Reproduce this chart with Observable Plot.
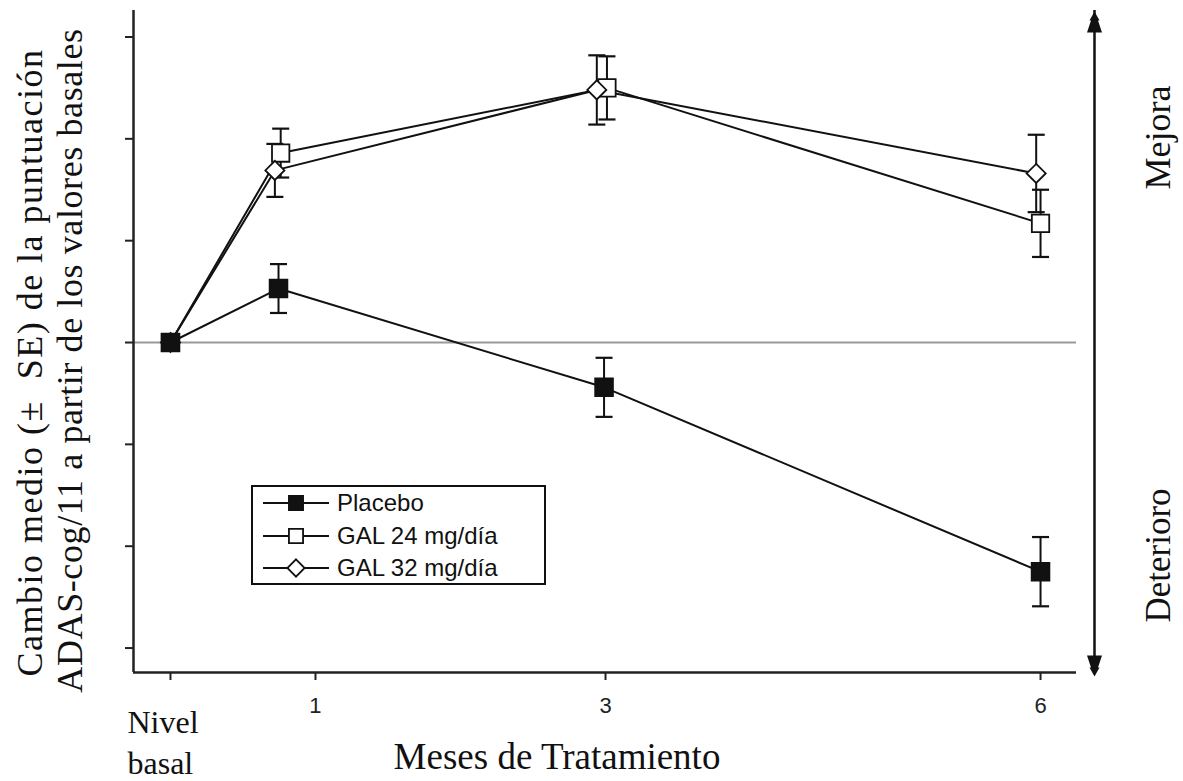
<!DOCTYPE html>
<html><head><meta charset="utf-8">
<script src="https://cdn.jsdelivr.net/npm/d3@7"></script>
<script src="https://cdn.jsdelivr.net/npm/@observablehq/plot@0.6"></script>
<style>html,body{margin:0;padding:0;background:#fff;} svg{display:block}</style>
</head><body><div id="chart"></div>
<script>
// ---- data ----
const seriesNames = ["Placebo", "GAL 24 mg/día", "GAL 32 mg/día"];
const placeboMonths = [0, 0.745, 2.99, 6.0];
const placeboMean   = [0, 0.53, -0.44, -2.25];
const placeboSE     = [0, 0.24, 0.29, 0.34];
const gal24Months   = [0, 0.76, 3.01, 6.0];
const gal24Mean     = [0, 1.86, 2.50, 1.17];
const gal24SE       = [0, 0.24, 0.31, 0.33];
const gal32Months   = [0, 0.72, 2.94, 5.97];
const gal32Mean     = [0, 1.69, 2.48, 1.66];
const gal32SE       = [0, 0.26, 0.34, 0.38];
const xTicks = [0, 1, 3, 6];
const xTickLabels = ["", "1", "3", "6"];
const baselineLabel = "Nivel\nbasal";
const yTicks = [-3, -2, -1, 0, 1, 2, 3];
const xTitle = "Meses de Tratamiento";
const yTitle1 = "Cambio medio (±\u00a0\u00a0SE) de la puntuación";
const yTitle2 = "ADAS-cog/11 a partir de los valores basales";
const upLabel = "Mejora";
const downLabel = "Deterioro";

const xDomain = [-0.255, 6.248];
const yDomain = [-3.24, 3.26];

function build(name, xs, ys, ses) {
  return xs.map((x, i) => ({series: name, x, y: ys[i], se: ses[i]}));
}
const placeboRows = build(seriesNames[0], placeboMonths, placeboMean, placeboSE);
const gal24Rows = build(seriesNames[1], gal24Months, gal24Mean, gal24SE);
const gal32Rows = build(seriesNames[2], gal32Months, gal32Mean, gal32SE);
const rows = [...gal24Rows, ...gal32Rows, ...placeboRows];
const errRows = rows.filter(d => d.se > 0);

const SERIF = "'Liberation Serif','Times New Roman',serif";
const SANS = "'Liberation Sans',Arial,Helvetica,sans-serif";
const INK = "#111";

const capSymbol = { draw(ctx, size) { const w = Math.sqrt(size); ctx.moveTo(-w, 0); ctx.lineTo(w, 0); } };
const headUp = { draw(ctx) { ctx.moveTo(0, 1); ctx.lineTo(5, 10); ctx.lineTo(3.5, 10); ctx.lineTo(7.5, 22); ctx.lineTo(-7.5, 22); ctx.lineTo(-3.5, 10); ctx.lineTo(-5, 10); ctx.closePath(); } };
const headDown = { draw(ctx) { ctx.moveTo(0, -1); ctx.lineTo(5, -10); ctx.lineTo(3.5, -10); ctx.lineTo(7.5, -22); ctx.lineTo(-7.5, -22); ctx.lineTo(-3.5, -10); ctx.lineTo(-5, -10); ctx.closePath(); } };

const styleOf = {
  "Placebo": {symbol: "square", fill: INK, r: 10},
  "GAL 24 mg/día": {symbol: "square", fill: "white", r: 9.8},
  "GAL 32 mg/día": {symbol: "diamond2", fill: "white", r: 8.6}
};
const seriesDots = (data) => {
  const s = styleOf[data[0].series];
  return Plot.dot(data, {x: "x", y: "y", symbol: s.symbol, r: s.r, fill: s.fill, stroke: INK, strokeWidth: 1.8});
};
const serifText = {fontFamily: SERIF, fill: INK, textAnchor: "middle", lineAnchor: "middle"};

const marks = [
  // zero reference line
  Plot.ruleY([0], {stroke: "#999", strokeWidth: 2}),
  // frame axes lines
  Plot.ruleX([xDomain[0]], {stroke: "#222", strokeWidth: 2.5}),
  Plot.ruleY([yDomain[0]], {stroke: "#222", strokeWidth: 2.5}),
  Plot.axisY({ticks: yTicks, tickFormat: () => "", tickSize: 8, stroke: "#222", strokeWidth: 2, label: null}),
  Plot.axisX({ticks: xTicks, tickFormat: () => "", tickSize: 8, stroke: "#222", strokeWidth: 2, label: null}),
  Plot.text(xTicks, {x: d => d, frameAnchor: "bottom", text: (d, i) => xTickLabels[i], textAnchor: "middle",
    lineAnchor: "middle", dy: 33, fontSize: 22, fontFamily: SANS, fill: "#222"}),
  Plot.text([0], {x: d => d, frameAnchor: "bottom", text: () => baselineLabel, textAnchor: "start", lineAnchor: "top",
    lineHeight: 1.28, dx: -43, dy: 31, fontSize: 32, fontFamily: SERIF, fill: INK}),
  Plot.text([xTitle], {...serifText, frameAnchor: "bottom", dx: -48, dy: 85, fontSize: 37}),
  Plot.text([yTitle1], {...serifText, frameAnchor: "left", rotate: -90, dx: -103, dy: 21, fontSize: 36}),
  Plot.text([yTitle2], {...serifText, frameAnchor: "left", rotate: -90, dx: -63, dy: 19, fontSize: 36}),
  Plot.text([upLabel], {...serifText, frameAnchor: "top-right", rotate: -90, dx: 82, dy: 127, fontSize: 36}),
  Plot.text([downLabel], {...serifText, frameAnchor: "bottom-right", rotate: -90, dx: 82, dy: -117, fontSize: 35}),
  // double arrow
  Plot.ruleX([xDomain[1]], {y1: yDomain[0], y2: yDomain[1], dx: 18, stroke: INK, strokeWidth: 2.5}),
  Plot.dot([yDomain[1]], {x: () => xDomain[1], y: d => d, dx: 18, symbol: headUp, fill: INK, stroke: "none", r: 5}),
  Plot.dot([yDomain[0]], {x: () => xDomain[1], y: d => d, dx: 18, dy: 5, symbol: headDown, fill: INK, stroke: "none", r: 5}),
  // series lines
  Plot.line(rows, {x: "x", y: "y", z: "series", stroke: INK, strokeWidth: 2}),
  // error bars
  Plot.ruleX(errRows, {x: "x", y1: d => d.y - d.se, y2: d => d.y + d.se, stroke: INK, strokeWidth: 2}),
  Plot.dot(errRows, {x: "x", y: d => d.y + d.se, symbol: capSymbol, r: 4.8, stroke: INK, strokeWidth: 2.2, fill: "none"}),
  Plot.dot(errRows, {x: "x", y: d => d.y - d.se, symbol: capSymbol, r: 4.8, stroke: INK, strokeWidth: 2.2, fill: "none"}),
  // markers (placebo last so it sits on top at baseline)
  seriesDots(gal24Rows),
  seriesDots(gal32Rows),
  seriesDots(placeboRows)
];

const chart = Plot.plot({
  width: 1183, height: 781,
  marginLeft: 133, marginRight: 107, marginTop: 10, marginBottom: 109,
  x: {domain: xDomain},
  y: {domain: yDomain},
  style: {background: "white", overflow: "visible", fontSize: "22px", fontFamily: SANS, color: "#222"},
  marks
});
document.getElementById("chart").appendChild(chart);

const svg = d3.select(chart);
// widen the axis title lines slightly (letter spacing)
svg.selectAll("text").filter(function() { return this.textContent === yTitle1; }).style("letter-spacing", "1.5px");
svg.selectAll("text").filter(function() { return this.textContent === yTitle2; }).style("letter-spacing", "0.6px");

// ---- legend inside the plot ----
const lg = svg.append("g").attr("transform", "translate(252,486)");
lg.append("rect").attr("width", 293).attr("height", 98).attr("fill", "white").attr("stroke", INK).attr("stroke-width", 2);
const rowY = [17, 50, 82];
const legendSym = {
  "Placebo": d3.symbol(d3.symbolSquare, 200),
  "GAL 24 mg/día": d3.symbol(d3.symbolSquare, 200),
  "GAL 32 mg/día": d3.symbol(d3.symbolDiamond2, 190)
};
seriesNames.forEach((name, i) => {
  const g = lg.append("g").attr("transform", `translate(0,${rowY[i]})`);
  g.append("line").attr("x1", 11).attr("x2", 77).attr("stroke", INK).attr("stroke-width", 1.8);
  g.append("path").attr("d", legendSym[name]()).attr("transform", "translate(44,0)")
    .attr("fill", styleOf[name].fill).attr("stroke", INK).attr("stroke-width", 1.8);
  g.append("text").attr("x", 85).attr("dy", "0.35em").attr("text-anchor", "start")
    .attr("font-family", SANS).attr("font-size", 24).attr("fill", INK).text(name);
});
</script>
</body></html>
